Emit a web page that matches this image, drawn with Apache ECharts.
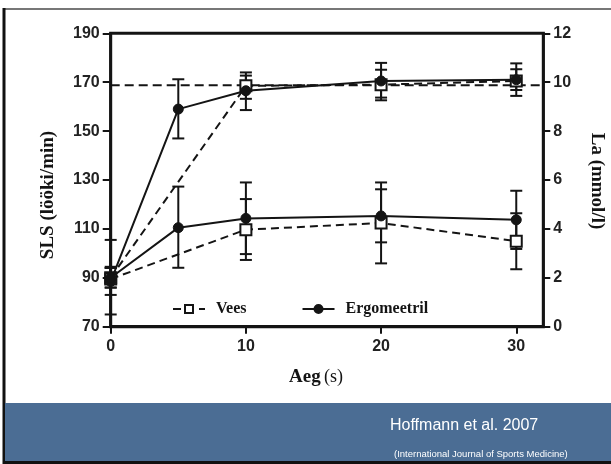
<!DOCTYPE html>
<html>
<head>
<meta charset="utf-8">
<title>SLS ja La</title>
<script src="https://cdn.jsdelivr.net/npm/echarts@6/dist/echarts.min.js"></script>
<style>
  html, body { margin: 0; padding: 0; background: #ffffff; }
  #chart { width: 611px; height: 464px; }
</style>
</head>
<body>
<div id="chart"></div>
<script>
// Time axis ticks (s)
const xTicks = [0, 10, 20, 30];

// Heart rate (SLS, left axis) – water condition
const hrVeesX = [0, 10, 20, 30];
const hrVees = [90, 168.5, 169, 170.5];
const hrVeesLow = [86, 163.2, 162.6, 166.8];
const hrVeesHigh = [94.5, 172.7, 175.1, 175.3];

// Heart rate (SLS, left axis) – ergometer condition
const hrErgoX = [0, 5, 10, 20, 30];
const hrErgo = [88.5, 159, 166.5, 170.5, 171];
const hrErgoLow = [83, 147, 158.6, 163.7, 164.4];
const hrErgoHigh = [94, 171.2, 174, 177.9, 177.7];

// Lactate (La, right axis) – water condition
const laVeesX = [0, 10, 20, 30];
const laVees = [1.95, 3.97, 4.24, 3.5];
const laVeesLow = [1.6, 2.73, 2.59, 2.35];
const laVeesHigh = [2.4, 5.22, 5.9, 4.64];

// Lactate (La, right axis) – ergometer condition
const laErgoX = [0, 5, 10, 20, 30];
const laErgo = [2.0, 4.05, 4.43, 4.53, 4.37];
const laErgoLow = [0.5, 2.41, 2.97, 3.45, 3.18];
const laErgoHigh = [3.55, 5.73, 5.9, 5.62, 5.56];

// Reference heart-rate level (dashed horizontal line)
const hrRefLevel = 168.8;

const INK = '#141414';
const SERIF = '"Liberation Serif", "DejaVu Serif", serif';
const SANS = '"Liberation Sans", Arial, sans-serif';

function pairs(xs, ys) { return xs.map((x, i) => [x, ys[i]]); }
function triples(xs, lo, hi) { return xs.map((x, i) => [x, lo[i], hi[i]]); }

function renderErrorBar(params, api) {
  const x = api.value(0);
  const lo = api.coord([x, api.value(1)]);
  const hi = api.coord([x, api.value(2)]);
  const w = 6;
  const st = { stroke: INK, lineWidth: 2 };
  return {
    type: 'group',
    children: [
      { type: 'line', shape: { x1: lo[0], y1: lo[1], x2: hi[0], y2: hi[1] }, style: st },
      { type: 'line', shape: { x1: lo[0] - w, y1: lo[1], x2: lo[0] + w, y2: lo[1] }, style: st },
      { type: 'line', shape: { x1: hi[0] - w, y1: hi[1], x2: hi[0] + w, y2: hi[1] }, style: st }
    ]
  };
}

function errorSeries(xs, lo, hi, yAxisIndex) {
  return {
    type: 'custom',
    yAxisIndex: yAxisIndex,
    renderItem: renderErrorBar,
    encode: { x: 0, y: [1, 2] },
    data: triples(xs, lo, hi),
    z: 2,
    silent: true
  };
}

const veesStyle = {
  type: 'line',
  name: 'Vees',
  symbol: 'rect',
  symbolSize: 11,
  showAllSymbol: true,
  clip: false,
  lineStyle: { color: INK, width: 2, type: [8, 5] },
  itemStyle: { color: '#ffffff', borderColor: INK, borderWidth: 2 },
  z: 4
};
const ergoStyle = {
  type: 'line',
  name: 'Ergomeetril',
  symbol: 'circle',
  symbolSize: 10,
  showAllSymbol: true,
  clip: false,
  lineStyle: { color: INK, width: 2, type: 'solid' },
  itemStyle: { color: INK, borderColor: INK, borderWidth: 1 },
  z: 5
};

const gridBox = { left: 110.7, right: 67.7, top: 33.3, bottom: 137.3 };

const option = {
  animation: false,
  backgroundColor: '#ffffff',
  grid: Object.assign({ show: true, borderColor: INK, borderWidth: 3, backgroundColor: 'transparent' }, gridBox),
  legend: {
    data: ['Vees', 'Ergomeetril'],
    left: 167,
    top: 296,
    itemWidth: 32,
    itemHeight: 10,
    itemGap: 55,
    textStyle: { fontFamily: SERIF, fontWeight: 'bold', fontSize: 16, color: INK, padding: [0, 0, 0, 6] }
  },
  xAxis: {
    type: 'value',
    min: 0,
    max: 32,
    interval: 10,
    splitLine: { show: false },
    axisLine: { onZero: false, lineStyle: { color: INK, width: 3 } },
    axisTick: { customValues: xTicks, length: 7, lineStyle: { color: INK, width: 2 } },
    axisLabel: { customValues: xTicks, margin: 12, fontFamily: SANS, fontWeight: 'bold', fontSize: 16, color: '#222' }
  },
  yAxis: [
    {
      type: 'value',
      min: 70,
      max: 190,
      interval: 20,
      position: 'left',
      splitLine: { show: false },
      axisLine: { show: true, onZero: false, lineStyle: { color: INK, width: 2.5 } },
      axisTick: { show: true, length: 8, lineStyle: { color: INK, width: 2 } },
      axisLabel: { margin: 11, fontFamily: SANS, fontWeight: 'bold', fontSize: 16, color: '#222' }
    },
    {
      type: 'value',
      min: 0,
      max: 12,
      interval: 2,
      position: 'right',
      splitLine: { show: false },
      axisLine: { show: true, onZero: false, lineStyle: { color: INK, width: 2.5 } },
      axisTick: { show: true, length: 7, lineStyle: { color: INK, width: 2 } },
      axisLabel: { margin: 10, fontFamily: SANS, fontWeight: 'bold', fontSize: 16, color: '#222' }
    }
  ],
  series: [
    // reference level line
    {
      type: 'line',
      name: 'ref',
      yAxisIndex: 0,
      data: [[0, hrRefLevel], [32, hrRefLevel]],
      symbol: 'none',
      clip: false,
      lineStyle: { color: INK, width: 2, type: [9, 5] },
      silent: true,
      z: 3
    },
    errorSeries(hrVeesX, hrVeesLow, hrVeesHigh, 0),
    errorSeries(hrErgoX, hrErgoLow, hrErgoHigh, 0),
    errorSeries(laVeesX, laVeesLow, laVeesHigh, 1),
    errorSeries(laErgoX, laErgoLow, laErgoHigh, 1),
    Object.assign({}, veesStyle, { yAxisIndex: 0, data: pairs(hrVeesX, hrVees) }),
    Object.assign({}, ergoStyle, { yAxisIndex: 0, data: pairs(hrErgoX, hrErgo) }),
    Object.assign({}, veesStyle, { yAxisIndex: 1, data: pairs(laVeesX, laVees) }),
    Object.assign({}, ergoStyle, { yAxisIndex: 1, data: pairs(laErgoX, laErgo) })
  ],
  graphic: [
    // frame edges
    { type: 'line', shape: { x1: 4, y1: 9, x2: 611, y2: 9 }, style: { stroke: '#777', lineWidth: 2 }, silent: true },
    { type: 'line', shape: { x1: 4, y1: 8, x2: 4, y2: 464 }, style: { stroke: '#111', lineWidth: 3 }, silent: true },
    // footer band
    { type: 'rect', shape: { x: 5, y: 403, width: 606, height: 58 }, style: { fill: '#4b6d94' }, silent: true },
    { type: 'line', shape: { x1: 4, y1: 462.5, x2: 611, y2: 462.5 }, style: { stroke: '#111', lineWidth: 3 }, silent: true },
    {
      type: 'text', left: 390, top: 418, silent: true,
      style: { text: 'Hoffmann et al. 2007', fill: '#ffffff', font: '16px ' + SANS }
    },
    {
      type: 'text', left: 394, top: 449, silent: true,
      style: { text: '(International Journal of Sports Medicine)', fill: '#ffffff', font: '9.5px ' + SANS }
    },
    // axis titles
    {
      type: 'text', x: 48, y: 195, rotation: Math.PI / 2, silent: true,
      style: { text: 'SLS (lööki/min)', fill: INK, font: 'bold 19px ' + SERIF, align: 'center', verticalAlign: 'middle' }
    },
    {
      type: 'text', x: 597, y: 181, rotation: -Math.PI / 2, silent: true,
      style: { text: 'La (mmol/l)', fill: INK, font: 'bold 19px ' + SERIF, align: 'center', verticalAlign: 'middle' }
    },
    {
      type: 'text', x: 316, y: 377, silent: true,
      style: {
        text: '{b|Aeg} {n|(s)}',
        align: 'center', verticalAlign: 'middle',
        rich: {
          b: { fontFamily: SERIF, fontWeight: 'bold', fontSize: 19, fill: INK },
          n: { fontFamily: SERIF, fontSize: 18, fill: INK }
        }
      }
    }
  ]
};

const chart = echarts.init(document.getElementById('chart'), null, { renderer: 'canvas' });
chart.setOption(option);
</script>
</body>
</html>
